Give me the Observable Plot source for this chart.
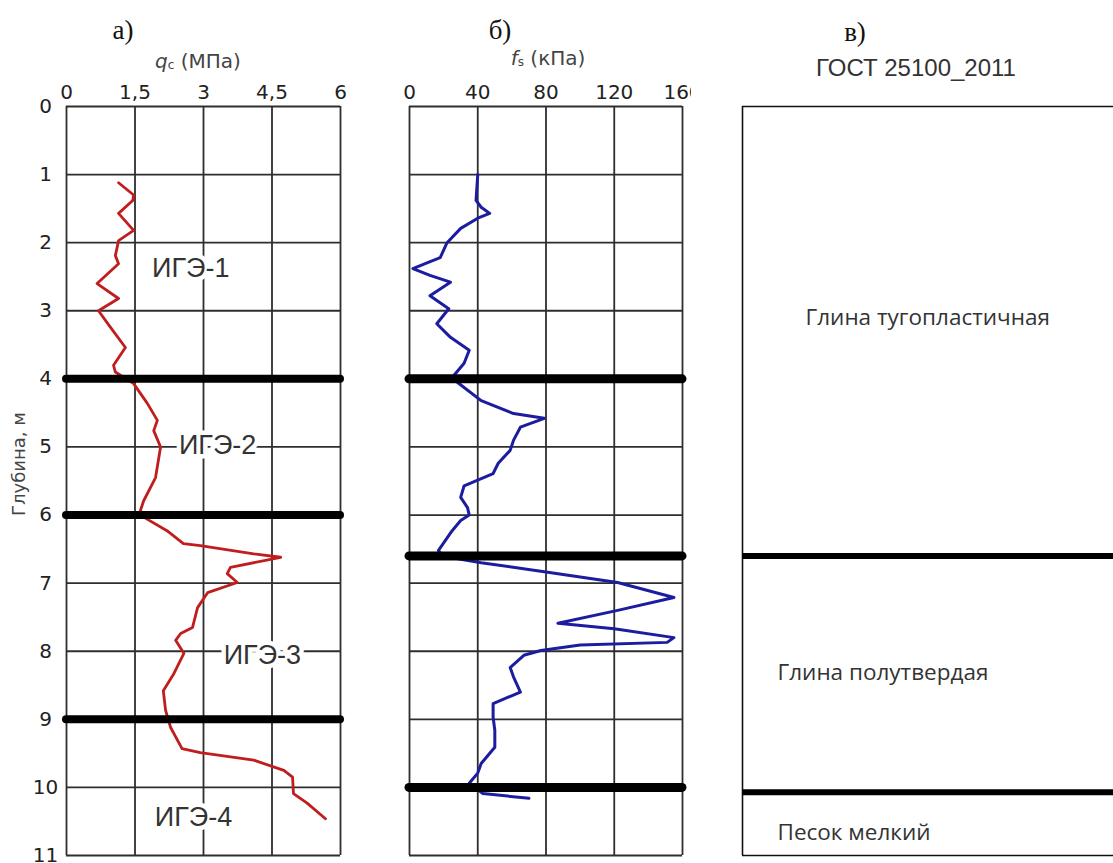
<!DOCTYPE html>
<html><head><meta charset="utf-8">
<script src="https://cdn.jsdelivr.net/npm/d3@7"></script>
<script src="https://cdn.jsdelivr.net/npm/@observablehq/plot@0.6"></script>
<style>
body{margin:0;background:#fff;}
#wrap{position:relative;width:1113px;height:863px;overflow:hidden;background:#fff;}
.lbl{position:absolute;transform:translate(-50%,-50%);white-space:nowrap;line-height:1;}
.panel{font-family:"Liberation Serif",serif;font-size:27px;color:#111;}
.atitle{font-family:"DejaVu Sans",sans-serif;font-size:20px;color:#444;}
.atitle sub{font-size:12px;vertical-align:-1px;}
.gost{font-family:"Liberation Sans",sans-serif;font-size:24px;color:#333;}
</style></head><body><div id="wrap"></div>
<script>
// ---- data ----
const depthTicks = [0,1,2,3,4,5,6,7,8,9,10,11];
const qcTicks = [0,1.5,3,4.5,6];
const fsTicks = [0,40,80,120,160];

const qcDepth = [1.12,1.30,1.38,1.57,1.82,1.97,2.19,2.31,2.60,2.82,3.00,3.24,3.54,3.80,3.90,4.07,4.36,4.61,4.76,5.00,5.45,5.79,5.93,6.03,6.23,6.42,6.45,6.57,6.62,6.77,6.86,6.99,7.14,7.36,7.65,7.74,7.84,8.03,8.33,8.58,8.87,9.12,9.43,9.49,9.60,9.75,9.85,10.09,10.23,10.46];
const qcValue = [1.14,1.47,1.45,1.14,1.47,1.14,1.07,1.14,0.67,1.14,0.70,0.96,1.29,1.03,1.07,1.47,1.77,1.99,1.91,2.06,1.95,1.69,1.62,1.69,2.20,2.56,2.93,4.10,4.69,3.59,3.52,3.74,3.09,2.87,2.76,2.50,2.39,2.57,2.35,2.12,2.17,2.28,2.53,2.93,4.10,4.76,4.95,4.97,5.27,5.67];

const fsDepth = [1.00,1.38,1.48,1.57,1.64,1.79,2.00,2.22,2.29,2.38,2.48,2.58,2.78,2.97,3.19,3.39,3.58,3.77,3.98,4.05,4.32,4.51,4.58,4.71,4.90,5.05,5.24,5.39,5.57,5.74,5.89,6.00,6.08,6.23,6.52,6.60,6.70,6.84,6.99,7.21,7.40,7.59,7.67,7.80,7.87,7.91,7.99,8.06,8.24,8.38,8.60,8.77,8.97,9.16,9.41,9.65,9.79,9.94,10.09,10.16];
const fsValue = [40,39,42,47,40,30,22,18,11,2,12,24,12,23,16,24,35,32,25,28,42,61,79,65,61,59,52,49,32,30,34,35,30,25,17,19,42,81,122,155,122,87,120,155,151,100,77,67,59,61,65,49,49,50,50,42,40,35,43,70];

const qcBoundaries = [4,6,9];
const fsBoundaries = [4,6.6,10];
const igeNames = ["ИГЭ-1","ИГЭ-2","ИГЭ-3","ИГЭ-4"];
const igeQc = [2.72,3.31,4.29,2.78];
const igeDepth = [2.38,4.98,8.06,10.44];

const layerNames = ["Глина тугопластичная","Глина полутвердая","Песок мелкий"];
const layerBoundaries = [6.6,10.07];
const layerLabelDepth = [3.11,8.31,10.66];

// ---- build tables ----
const qc = qcDepth.map((d,i)=>({d, v:qcValue[i]}));
const fs = fsDepth.map((d,i)=>({d, v:fsValue[i]}));
const ige = igeNames.map((t,i)=>({t, x:igeQc[i], d:igeDepth[i]}));
const layers = layerNames.map((t,i)=>({t, d:layerLabelDepth[i]}));

const wrap = document.getElementById("wrap");
const comma = d => String(d).replace(".", ",");
const grid = "#2e2e2e";
const tickFont = {fontSize:20, fontFamily:"DejaVu Sans, sans-serif", fill:"#222"};

function place(el, left){ el.style.position="absolute"; el.style.left=left+"px"; el.style.top="0px"; el.style.background="transparent"; el.style.overflow="hidden"; wrap.appendChild(el); }

// panel a
const a = Plot.plot({
  width:370, height:863, marginLeft:66, marginRight:30, marginTop:106, marginBottom:8,
  style:{fontFamily:"DejaVu Sans, sans-serif"},
  x:{domain:[0,6]}, y:{domain:[0,11], reverse:true},
  marks:[
    Plot.ruleX(qcTicks, {stroke:grid, strokeWidth:1.8}),
    Plot.ruleY(depthTicks, {x1:0, x2:6, stroke:grid, strokeWidth:1.8}),
    Plot.text(ige, {x:"x", y:"d", text:"t", fontSize:27, fontFamily:"Liberation Sans, sans-serif", fill:"#333", stroke:"white", strokeWidth:9}),
    Plot.line(qc, {x:"v", y:"d", stroke:"#c01e1e", strokeWidth:2.8, curve:"linear"}),
    Plot.ruleY(qcBoundaries, {x1:0, x2:6, stroke:"#000", strokeWidth:8, strokeLinecap:"round"}),
    Plot.axisX({anchor:"top", ticks:qcTicks, tickSize:0, tickPadding:8, tickFormat:comma, label:null, ...tickFont}),
    Plot.axisY({anchor:"left", ticks:depthTicks, tickSize:0, tickPadding:21, textAnchor:"middle", label:null, ...tickFont}),
    Plot.text(["Глубина, м"], {frameAnchor:"left", textAnchor:"middle", dx:-47, dy:-17, rotate:-90, fontSize:18, fill:"#444", fontFamily:"DejaVu Sans, sans-serif"})
  ]
});
place(a, 0);

// panel b
const b = Plot.plot({
  width:301, height:863, marginLeft:19, marginRight:9, marginTop:106, marginBottom:8,
  style:{fontFamily:"DejaVu Sans, sans-serif"},
  x:{domain:[0,160]}, y:{domain:[0,11], reverse:true},
  marks:[
    Plot.ruleX(fsTicks, {stroke:grid, strokeWidth:1.8}),
    Plot.ruleY(depthTicks, {x1:0, x2:160, stroke:grid, strokeWidth:1.8}),
    Plot.line(fs, {x:"v", y:"d", stroke:"#1c1ca0", strokeWidth:3, curve:"linear"}),
    Plot.ruleY(fsBoundaries, {x1:0, x2:160, stroke:"#000", strokeWidth:9, strokeLinecap:"round"}),
    Plot.axisX({anchor:"top", ticks:fsTicks, tickSize:0, tickPadding:8, label:null, ...tickFont}),
    Plot.axisY({ticks:[], label:null})
  ]
});
place(b, 390);

// panel c
const c = Plot.plot({
  width:383, height:863, marginLeft:12, marginRight:0, marginTop:106, marginBottom:8,
  x:{domain:[0,1], axis:null}, y:{domain:[0,11], reverse:true, axis:null},
  marks:[
    Plot.ruleX([0], {stroke:"#111", strokeWidth:1.6}),
    Plot.ruleY([0,11], {stroke:"#111", strokeWidth:1.6}),
    Plot.ruleY(layerBoundaries, {stroke:"#000", strokeWidth:6}),
    Plot.text(layers.slice(0,1), {x:0, y:"d", text:"t", textAnchor:"start", dx:63, fontSize:22.5, fontFamily:"Open Sans, sans-serif", fill:"#333"}),
    Plot.text(layers.slice(1), {x:0, y:"d", text:"t", textAnchor:"start", dx:35, fontSize:22.5, fontFamily:"Open Sans, sans-serif", fill:"#333"})
  ]
});
place(c, 730);

// header texts
function lbl(html, cls, x, y){ const s=document.createElement("div"); s.className="lbl "+cls; s.innerHTML=html; s.style.left=x+"px"; s.style.top=y+"px"; wrap.appendChild(s); }
lbl("а)", "panel", 123, 30);
lbl("б)", "panel", 500, 30);
lbl("в)", "panel", 855, 32);
lbl("<i>q</i><sub>c</sub> (МПа)", "atitle", 198, 61);
lbl("<i>f</i><sub>s</sub> (кПа)", "atitle", 548, 58);
lbl("ГОСТ 25100_2011", "gost", 916, 68);
</script></body></html>
